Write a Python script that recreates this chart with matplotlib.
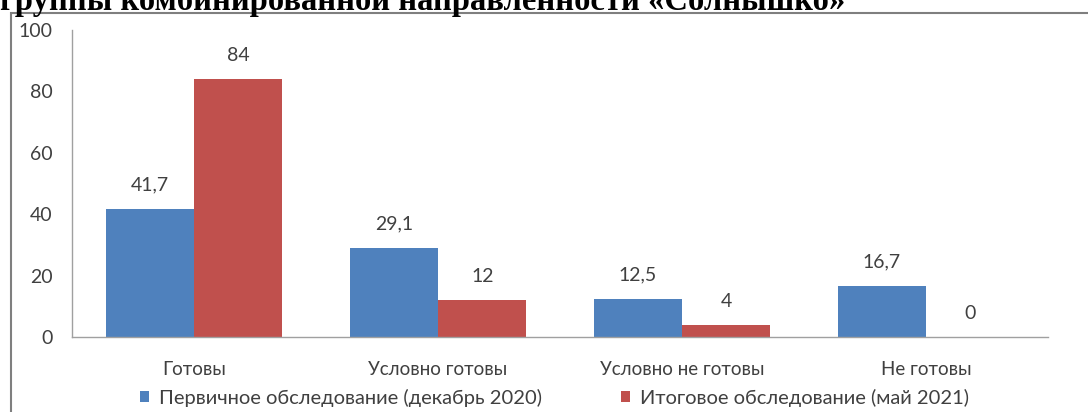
import matplotlib.pyplot as plt
from matplotlib.patches import Rectangle
import numpy as np

categories = ["Готовы", "Условно готовы", "Условно не готовы", "Не готовы"]
first_exam = [41.7, 29.1, 12.5, 16.7]
final_exam = [84, 12, 4, 0]
series_names = ["Первичное обследование (декабрь 2020)", "Итоговое обследование (май 2021)"]
title = "группы комбинированной направленности «Солнышко»"

W, H = 1088, 412
fig = plt.figure(figsize=(W / 100, H / 100), dpi=100)
ax = fig.add_axes([72 / W, 1 - 337 / H, 976 / W, 307 / H])

font = "Lato"
txt = "#404040"
x = np.arange(len(categories))
bw = 0.3625

b1 = ax.bar(x - bw / 2, first_exam, bw, color="#4F81BD", label=series_names[0])
b2 = ax.bar(x + bw / 2, final_exam, bw, color="#C0504D", label=series_names[1])

def fmt(v):
    return ("%g" % v).replace(".", ",")

for bars, vals in ((b1, first_exam), (b2, final_exam)):
    for r, v in zip(bars, vals):
        ax.annotate(fmt(v), (r.get_x() + r.get_width() / 2, v), xytext=(0, 17),
                    textcoords="offset points", ha="center", va="center",
                    fontsize=14, family=font, color=txt)

ax.set_xlim(-0.5, len(categories) - 0.5)
ax.set_ylim(0, 100)
ax.set_yticks(range(0, 101, 20))
ax.set_xticks(x)
ax.set_xticklabels(categories, family=font, fontsize=13.5, color=txt)
for lab in ax.get_yticklabels():
    lab.set_family(font)
    lab.set_fontsize(14)
    lab.set_color(txt)
ax.tick_params(axis="y", length=0, pad=14)
ax.tick_params(axis="x", length=0, pad=17)
for s in ("top", "right"):
    ax.spines[s].set_visible(False)
for s in ("left", "bottom"):
    ax.spines[s].set_color("#A0A0A0")
    ax.spines[s].set_linewidth(1)

fig.legend(handles=[b1, b2], loc="center left", bbox_to_anchor=(140 / W, 1 - 398 / H), ncol=2,
           frameon=False, prop={"family": font, "size": 14.5}, handlelength=0.45,
           handleheight=0.45, handletextpad=0.5, columnspacing=3.9, labelcolor=txt,
           borderpad=0, borderaxespad=0)

# outer chart frame, cut off by the image edges
fig.patches.append(Rectangle((11 / W, -0.1), 1.2, 1 - 13 / H + 0.1, transform=fig.transFigure,
                             fill=False, edgecolor="#7F7F7F", linewidth=1.5))

fig.text(0, 1 - 10 / H, title, family="Liberation Serif", weight="bold", fontsize=23.5,
         ha="left", va="baseline", color="black")

fig.savefig("out.png", dpi=100)
